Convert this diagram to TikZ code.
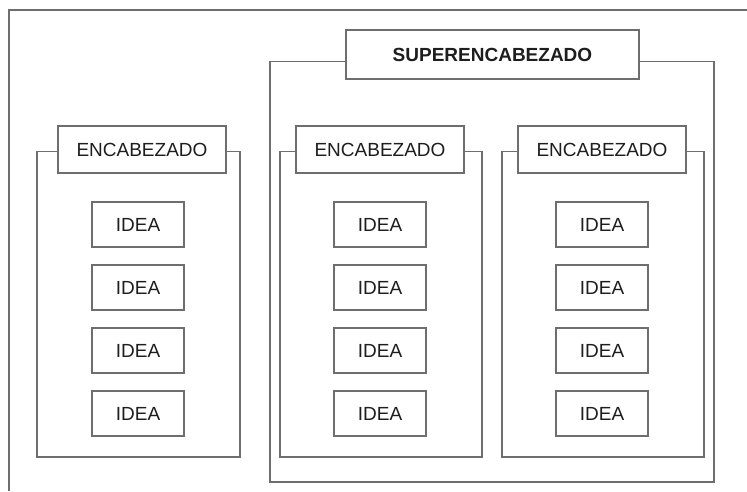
\documentclass[tikz,border=0pt]{standalone}
\usepackage{fontspec}
\setmainfont{Liberation Sans}
\definecolor{linegray}{HTML}{6E6E6E}
\definecolor{textgray}{HTML}{1E1E1E}
\tikzset{
  cuadro/.style={draw=linegray, line width=1.4pt, fill=white, inner sep=0pt,
    text=textgray, font=\fontsize{19}{22}\selectfont},
  encab/.style={cuadro, minimum width=168pt, minimum height=47pt},
  superencab/.style={cuadro, minimum width=293pt, minimum height=49pt,
    font=\fontsize{19}{22}\selectfont\bfseries},
  idea/.style={cuadro, minimum width=92pt, minimum height=45pt},
  marco/.style={draw=linegray, line width=1.4pt}
}
\begin{document}
\begin{tikzpicture}[x=1pt,y=-1pt]

		\useasboundingbox (0,0) rectangle (747,491);

		% Marco exterior (cortado a la derecha y abajo)
		\draw[marco] (747,10) -- (9,10) -- (9,491);

		% Superencabezado y su marco
		\node[superencab] (sup) at (492.5,54.5) {SUPERENCABEZADO};
		\coordinate (supSO) at (270,482);
		\coordinate (supSE) at (714,482);
		\draw[marco] ([yshift=-7pt]sup.west) -| (supSO) -- (supSE) |- ([yshift=-7pt]sup.east);

		% Grupo izquierdo
		\node[encab] (encA) at (142,149.5) {ENCABEZADO};
		\coordinate (marcoASO) at (37,457);
		\coordinate (marcoASE) at (240,457);
		\draw[marco] ([yshift=-2pt]encA.west) -| (marcoASO) -- (marcoASE) |- ([yshift=-2pt]encA.east);
		\node[idea] (ideaA1) at (138,224.5) {IDEA};
		\node[idea] (ideaA2) at (138,287.5) {IDEA};
		\node[idea] (ideaA3) at (138,350.5) {IDEA};
		\node[idea] (ideaA4) at (138,413.5) {IDEA};

		% Grupo central
		\node[encab] (encB) at (380,149.5) {ENCABEZADO};
		\coordinate (marcoBSO) at (280,457);
		\coordinate (marcoBSE) at (482,457);
		\draw[marco] ([yshift=-2pt]encB.west) -| (marcoBSO) -- (marcoBSE) |- ([yshift=-2pt]encB.east);
		\node[idea] (ideaB1) at (380,224.5) {IDEA};
		\node[idea] (ideaB2) at (380,287.5) {IDEA};
		\node[idea] (ideaB3) at (380,350.5) {IDEA};
		\node[idea] (ideaB4) at (380,413.5) {IDEA};

		% Grupo derecho
		\node[encab] (encC) at (602,149.5) {ENCABEZADO};
		\coordinate (marcoCSO) at (502,457);
		\coordinate (marcoCSE) at (704,457);
		\draw[marco] ([yshift=-2pt]encC.west) -| (marcoCSO) -- (marcoCSE) |- ([yshift=-2pt]encC.east);
		\node[idea] (ideaC1) at (602,224.5) {IDEA};
		\node[idea] (ideaC2) at (602,287.5) {IDEA};
		\node[idea] (ideaC3) at (602,350.5) {IDEA};
		\node[idea] (ideaC4) at (602,413.5) {IDEA};

\end{tikzpicture}
\end{document}
